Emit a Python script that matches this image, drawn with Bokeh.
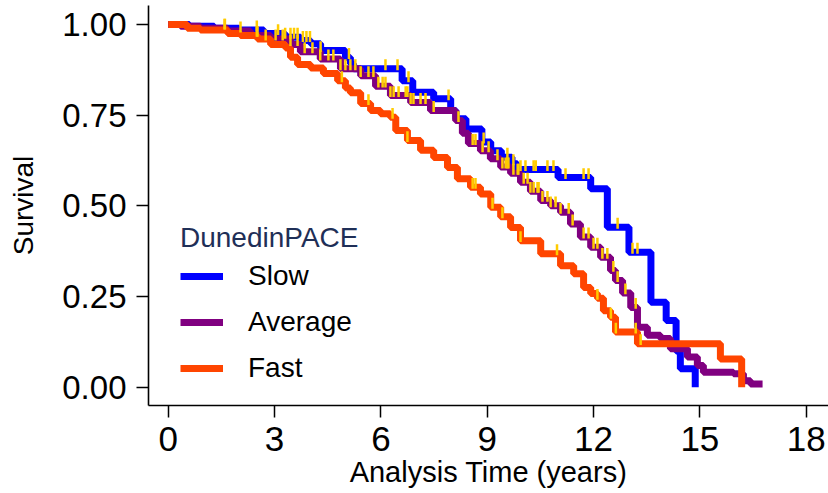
import numpy as np
from bokeh.plotting import figure
from bokeh.models import Range1d, FixedTicker, Legend, LegendItem, ColumnDataSource
from bokeh.embed import file_html
from bokeh.resources import INLINE

# ---- data ----
groups = ["Slow", "Average", "Fast"]

slow_t = [0, 0.6, 1.3, 2.0, 2.7, 3.3, 3.74, 4.02, 4.3, 5.0, 5.14, 5.23, 6.6, 6.9, 7.49, 7.97,
          8.12, 8.4, 8.85, 9.1, 9.4, 9.7, 9.85, 11.0, 11.92, 12.39, 13.0, 13.62, 14.05, 14.33,
          14.45, 14.87]
slow_s = [1.0, 0.995, 0.99, 0.985, 0.975, 0.965, 0.956, 0.947, 0.928, 0.909, 0.892, 0.878,
          0.845, 0.813, 0.795, 0.763, 0.74, 0.712, 0.676, 0.652, 0.634, 0.616, 0.60, 0.578,
          0.547, 0.441, 0.372, 0.234, 0.184, 0.10, 0.051, 0.0]

avg_t = [0, 0.35, 0.91, 1.67, 2.32, 2.89, 3.45, 3.73, 4.29, 4.86, 5.43, 5.85, 6.27, 6.84,
         7.40, 8.11, 8.30, 8.47, 8.81, 9.09, 9.38, 9.66, 9.94, 10.22, 10.51, 10.79, 11.07,
         11.35, 11.63, 11.92, 12.2, 12.48, 12.62, 12.82, 13.05, 13.24, 13.52, 13.89, 14.17,
         14.65, 14.93, 15.1, 15.95, 16.23, 16.43, 16.77]
avg_s = [1.0, 0.995, 0.99, 0.982, 0.97, 0.96, 0.945, 0.925, 0.905, 0.878, 0.859, 0.83, 0.804,
         0.785, 0.763, 0.735, 0.70, 0.672, 0.652, 0.63, 0.607, 0.59, 0.565, 0.54, 0.515, 0.50,
         0.482, 0.45, 0.414, 0.386, 0.358, 0.322, 0.294, 0.26, 0.22, 0.165, 0.143, 0.134,
         0.106, 0.083, 0.06, 0.041, 0.037, 0.018, 0.009, 0.009]

fast_t = [0, 0.54, 0.91, 1.68, 2.04, 2.52, 2.89, 3.31, 3.45, 3.65, 4.02, 4.38, 4.78, 5.0,
          5.14, 5.43, 5.71, 5.99, 6.27, 6.42, 6.75, 7.12, 7.49, 7.88, 8.16, 8.53, 8.81, 9.1,
          9.38, 9.66, 9.94, 10.51, 11.07, 11.44, 11.72, 11.92, 12.11, 12.28, 12.48, 12.62,
          13.24, 15.58, 16.18]
fast_s = [1.0, 0.99, 0.985, 0.975, 0.97, 0.96, 0.945, 0.935, 0.91, 0.89, 0.88, 0.865, 0.845,
          0.825, 0.812, 0.782, 0.763, 0.754, 0.744, 0.708, 0.68, 0.653, 0.633, 0.606, 0.575,
          0.551, 0.533, 0.496, 0.47, 0.44, 0.404, 0.368, 0.335, 0.313, 0.275, 0.258, 0.245,
          0.211, 0.193, 0.152, 0.12, 0.078, 0.0]

# censoring times (tick marks)
slow_cens = [1.6, 2.5, 3.1, 3.3, 3.45, 3.55, 3.65, 3.8, 3.9, 4.0, 4.3, 5.1, 6.13, 6.47, 6.78,
             7.91, 8.9, 9.57, 9.74, 9.94, 10.08, 10.31, 10.37, 10.70, 10.87, 11.21, 11.72,
             11.86, 12.68, 13.1, 13.24]
avg_cens = [1.59, 2.04, 2.52, 3.03, 3.23, 3.45, 3.65, 3.85, 4.07, 4.29, 4.52, 4.66, 4.86, 5.0,
            5.14, 5.28, 5.43, 5.65, 5.79, 5.93, 6.05, 6.13, 6.27, 6.36, 6.50, 6.70, 6.75, 6.84,
            6.92, 7.12, 7.26, 7.49, 8.19, 8.59, 8.67, 8.87, 9.04, 9.29, 9.43, 9.52, 9.57, 9.60,
            9.74, 9.86, 9.88, 10.03, 10.14, 10.22, 10.31, 10.42, 10.45, 10.56, 10.70, 10.79,
            10.93, 11.07, 11.30, 11.41, 11.72, 11.86, 12.0, 12.11, 12.25, 12.39, 12.56, 12.68,
            12.90, 13.19]
fast_cens = [2.5, 2.75, 4.9, 5.65, 6.33, 6.75, 8.59, 8.67, 9.15, 9.43, 9.94, 10.97, 12.11,
             12.49, 12.63, 13.19, 13.33]

x_ticks = [0, 3, 6, 9, 12, 15, 18]
y_ticks = [0, 0.25, 0.5, 0.75, 1.0]
y_tick_labels = ["0.00", "0.25", "0.50", "0.75", "1.00"]

colors = ["#0000FF", "#800080", "#FF4500"]
censor_color = "#FFCC00"
FONT = "Liberation Sans"

p = figure(width=828, height=493, output_backend="svg", toolbar_location=None,
           x_range=Range1d(-0.556, 18.63), y_range=Range1d(-0.0505, 1.0524),
           min_border_left=148, min_border_right=0, min_border_top=5,
           min_border_bottom=88)
p.outline_line_color = None
p.xgrid.visible = False
p.ygrid.visible = False
p.background_fill_color = "white"
p.border_fill_color = "white"

series = [(slow_t, slow_s, slow_cens), (avg_t, avg_s, avg_cens), (fast_t, fast_s, fast_cens)]
renderers = []
for (ts, ss, cs), col in zip(series, colors):
    r = p.step(ts, ss, mode="after", line_color=col, line_width=7)
    renderers.append(r)

def surv_at(ts, ss, t):
    ts = np.asarray(ts); ss = np.asarray(ss)
    idx = np.searchsorted(ts, t, side="right") - 1
    return ss[np.clip(idx, 0, len(ss) - 1)]

for (ts, ss, cs) in series:
    cs = np.asarray(cs)
    y0 = surv_at(ts, ss, cs)
    src = ColumnDataSource(dict(x0=cs, y0=y0 - 0.004, x1=cs, y1=y0 + 0.026))
    p.segment("x0", "y0", "x1", "y1", source=src, line_color=censor_color, line_width=2.5)

# axes
for ax in (p.xaxis[0], p.yaxis[0]):
    ax.axis_line_color = "black"
    ax.axis_line_width = 1.6
    ax.major_tick_line_color = "black"
    ax.major_tick_line_width = 1.5
    ax.major_tick_out = 12
    ax.major_tick_in = 0
    ax.minor_tick_out = 0
    ax.minor_tick_in = 0
    ax.major_label_text_font = FONT
    ax.major_label_text_color = "black"
    ax.axis_label_text_font = FONT
    ax.axis_label_text_font_style = "normal"
    ax.axis_label_text_color = "black"

p.xaxis.ticker = FixedTicker(ticks=x_ticks)
p.xaxis.major_label_text_font_size = "35px"
p.xaxis.major_label_standoff = 9
p.xaxis.axis_label = "Analysis Time (years)"
p.xaxis.axis_label_text_font_size = "29px"
p.xaxis.axis_label_standoff = 2

p.yaxis.ticker = FixedTicker(ticks=y_ticks)
p.yaxis.major_label_overrides = {t: l for t, l in zip(y_ticks, y_tick_labels)}
p.yaxis.major_label_text_font_size = "33px"
p.yaxis.major_label_standoff = 10
p.yaxis.axis_label = "Survival"
p.yaxis.axis_label_text_font_size = "28px"
p.yaxis.axis_label_standoff = 20

legend = Legend(items=[LegendItem(label=g, renderers=[r]) for g, r in zip(groups, renderers)],
                location=(32, 21), title="DunedinPACE",
                title_text_font=FONT, title_text_font_size="28px",
                title_text_font_style="normal", title_text_color="#1f2f57",
                title_standoff=6,
                label_text_font=FONT, label_text_font_size="28px", label_text_color="black",
                glyph_width=43, glyph_height=32, label_height=32, label_standoff=25,
                spacing=14, padding=0, margin=0,
                border_line_color=None, background_fill_alpha=0)
p.add_layout(legend)

open("out.html", "w").write(file_html(p, INLINE))
